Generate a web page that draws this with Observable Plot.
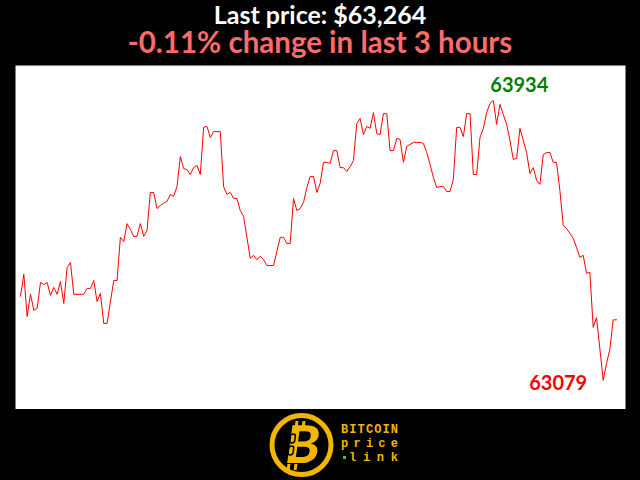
<!DOCTYPE html>
<html>
<head>
<meta charset="utf-8">
<script src="https://cdn.jsdelivr.net/npm/d3@7"></script>
<script src="https://cdn.jsdelivr.net/npm/@observablehq/plot@0.6"></script>
<style>
  html, body { margin: 0; padding: 0; background: #000; }
  #page { position: relative; width: 640px; height: 480px; background: #000; overflow: hidden; font-family: Lato, "Open Sans", sans-serif; }
  .t1 { position: absolute; left: 0; width: 640px; text-align: center; color: #fff; font-weight: bold; font-size: 25px; line-height: 25px; top: 1.5px; }
  .t2 { position: absolute; left: 0; width: 640px; text-align: center; color: #ff6a6a; font-weight: bold; font-size: 29.5px; line-height: 28px; top: 28px; }
  #chart { position: absolute; left: 0; top: 65px; }
  #logo { position: absolute; left: 0; top: 405px; }
</style>
</head>
<body>
<div id="page">
  <div class="t1" id="title"></div>
  <div class="t2" id="subtitle"></div>
  <div id="chart"></div>
  <svg id="logo" width="640" height="75" viewBox="0 405 640 75">
    <circle cx="301.5" cy="445" r="29.5" fill="none" stroke="#f2b600" stroke-width="5"/>
    <g transform="translate(301,446) skewX(-8)">
      <rect x="-9" y="-25" width="3" height="6" fill="#f2b600"/>
      <rect x="-2" y="-25" width="3" height="6" fill="#f2b600"/>
      <rect x="-11" y="18" width="3" height="6" fill="#f2b600"/>
      <rect x="-4" y="18" width="3" height="6" fill="#f2b600"/>
      <text x="2" y="17" text-anchor="middle" font-family="Lato, 'DejaVu Sans', sans-serif" font-weight="900" font-size="52" fill="#f2b600">B</text>
      <rect x="-12" y="-12" width="5" height="9" rx="2.5" fill="none" stroke="#000" stroke-width="1.5"/>
      <rect x="-12" y="0" width="5" height="9" rx="2.5" fill="none" stroke="#000" stroke-width="1.5"/>
    </g>
    <text x="341" y="433" textLength="57" lengthAdjust="spacing" font-family="'Liberation Mono', 'DejaVu Sans Mono', monospace" font-weight="bold" font-size="12" fill="#f2b600">BITCOIN</text>
    <text x="341" y="447" textLength="57" lengthAdjust="spacing" font-family="'Liberation Mono', 'DejaVu Sans Mono', monospace" font-weight="bold" font-size="12" fill="#f2b600">price</text>
    <rect x="343" y="456" width="3" height="3" fill="#2ecc40"/>
    <text x="349" y="461" textLength="49" lengthAdjust="spacing" font-family="'Liberation Mono', 'DejaVu Sans Mono', monospace" font-weight="bold" font-size="12" fill="#f2b600">link</text>
  </svg>
</div>
<script>
const titleText = "Last price: $63,264";
const subtitleText = "-0.11% change in last 3 hours";

// minute offsets within the last 3 hours (vertices of the price trace)
const minutes = [0,1,2,3,4,5,6,7,8,9,10,11,12,13,14,15,16,19,20,21,22,23,24,25,26,28,29,30,31,32,33,34,35,36,37,38,39,40,41,42,43,44,45,46,47,48,49,50,51,52,53,54,55,56,57,58,60,61,62,63,64,65,66,67,68,69,70,71,72,73,74,76,78,79,80,81,82,83,84,85,86,87,88,89,90,91,92,93,94,95,96,97,98,99,100,101,102,103,104,105,106,107,108,109,110,111,112,113,114,115,116,117,118,119,120,121,122,123,124,125,126,127,128,129,130,131,132,133,134,135,136,137,138,139,140,141,142,143,144,145,146,147,148,149,150,152,153,154,155,156,157,158,159,160,161,162,163,164,165,166,167,168,169,170,171,172,173,175,176,177,178,179];

// BTC price in USD
const prices = [63336,63403,63274,63342,63293,63299,63378,63372,63378,63339,63363,63342,63381,63314,63424,63439,63342,63342,63360,63360,63384,63320,63345,63253,63253,63384,63384,63516,63503,63558,63540,63519,63519,63558,63519,63537,63653,63653,63604,63613,63620,63626,63647,63641,63671,63763,63726,63723,63708,63729,63736,63708,63852,63855,63821,63839,63839,63671,63647,63653,63635,63635,63598,63580,63516,63452,63461,63448,63458,63448,63430,63430,63516,63516,63497,63497,63635,63598,63604,63623,63668,63702,63702,63653,63681,63745,63745,63742,63781,63781,63729,63729,63717,63732,63751,63864,63879,63830,63855,63849,63897,63833,63830,63894,63894,63781,63781,63818,63815,63745,63794,63800,63806,63806,63806,63803,63775,63739,63699,63668,63671,63671,63656,63656,63693,63852,63852,63824,63894,63894,63708,63708,63821,63849,63897,63925,63934,63861,63922,63891,63861,63812,63754,63757,63849,63775,63711,63729,63690,63678,63769,63775,63775,63745,63745,63659,63552,63543,63528,63513,63485,63455,63461,63406,63409,63241,63271,63079,63131,63174,63264,63264];

const xDomain = [-1.5, 181.7];
const yDomain = [62990, 64041];

document.getElementById("title").textContent = titleText;
document.getElementById("subtitle").textContent = subtitleText;

const data = minutes.map((m, i) => ({minute: m, price: prices[i]}));
const maxPt = data[d3.maxIndex(data, d => d.price)];
const minPt = data[d3.minIndex(data, d => d.price)];

const chart = Plot.plot({
  width: 640,
  height: 344,
  marginLeft: 15,
  marginRight: 15,
  marginTop: 0,
  marginBottom: 0,
  style: {background: "black", fontFamily: "Lato, sans-serif"},
  x: {domain: xDomain, axis: null},
  y: {domain: yDomain, axis: null},
  marks: [
    Plot.frame({fill: "white", stroke: "none"}),
    Plot.line(data, {x: "minute", y: "price", stroke: "#ff0000", strokeWidth: 1}),
    Plot.text([maxPt], {x: "minute", y: "price", text: d => String(d.price), textAnchor: "start", lineAnchor: "bottom", dx: -3, dy: -9, fill: "#008000", fontSize: 20, fontWeight: "bold"}),
    Plot.text([minPt], {x: "minute", y: "price", text: d => String(d.price), textAnchor: "end", lineAnchor: "bottom", dx: -16, dy: 10, fill: "#ff0000", fontSize: 20, fontWeight: "bold"})
  ]
});
document.getElementById("chart").appendChild(chart);
</script>
</body>
</html>
